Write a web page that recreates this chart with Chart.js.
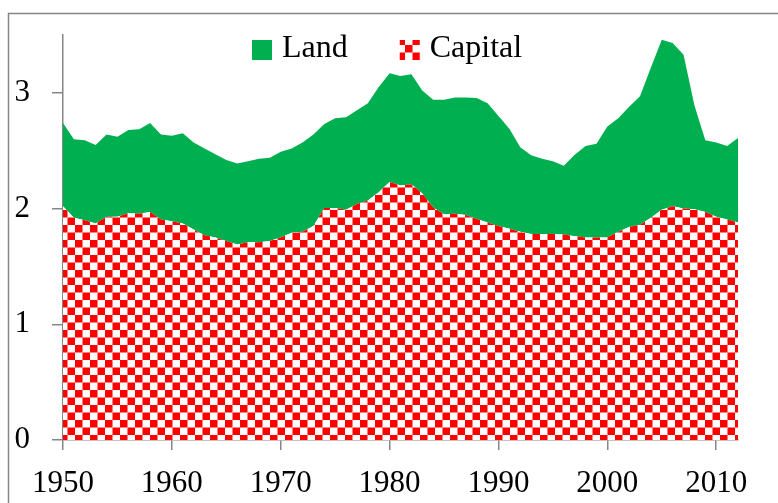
<!DOCTYPE html>
<html>
<head>
<meta charset="utf-8">
<script src="https://cdn.jsdelivr.net/npm/chart.js@4/dist/chart.umd.min.js"></script>
<style>
  html, body { margin: 0; padding: 0; background: #ffffff; }
  #wrap { position: relative; width: 778px; height: 503px; }
</style>
</head>
<body>
<div id="wrap"><canvas id="c" width="778" height="503"></canvas></div>
<script>
// ---- data ----
const years = [1950,1951,1952,1953,1954,1955,1956,1957,1958,1959,
               1960,1961,1962,1963,1964,1965,1966,1967,1968,1969,
               1970,1971,1972,1973,1974,1975,1976,1977,1978,1979,
               1980,1981,1982,1983,1984,1985,1986,1987,1988,1989,
               1990,1991,1992,1993,1994,1995,1996,1997,1998,1999,
               2000,2001,2002,2003,2004,2005,2006,2007,2008,2009,
               2010,2011,2012];
const capital = [2.02,1.92,1.90,1.87,1.93,1.93,1.96,1.955,1.97,1.905,
                 1.89,1.87,1.82,1.77,1.75,1.72,1.69,1.71,1.71,1.72,
                 1.75,1.79,1.80,1.85,2.005,2.005,1.99,2.04,2.07,2.14,
                 2.23,2.20,2.21,2.13,2.01,1.95,1.955,1.945,1.91,1.88,
                 1.85,1.825,1.80,1.78,1.78,1.78,1.775,1.76,1.75,1.75,
                 1.75,1.80,1.84,1.86,1.92,1.99,2.02,2.00,1.995,1.97,
                 1.93,1.905,1.88];
const land = [0.72,0.68,0.69,0.68,0.71,0.69,0.72,0.73,0.77,0.735,
              0.74,0.78,0.75,0.75,0.72,0.70,0.70,0.70,0.72,0.72,
              0.74,0.73,0.77,0.79,0.725,0.775,0.80,0.81,0.84,0.91,
              0.94,0.945,0.95,0.89,0.93,0.99,1.005,1.015,1.045,1.03,
              0.95,0.865,0.73,0.68,0.65,0.63,0.595,0.705,0.79,0.81,
              0.96,0.98,1.04,1.11,1.30,1.47,1.41,1.33,0.895,0.62,
              0.64,0.635,0.73];
const seriesNames = ['Capital', 'Land'];
const xTicks = [1950, 1960, 1970, 1980, 1990, 2000, 2010];
const yTicks = [0, 1, 2, 3];

// ---- styles ----
const FONT = '"Liberation Serif", "Times New Roman", serif';
const AXIS = '#868686';
const GREEN = '#00B050';

function checker() {
  const t = document.createElement('canvas');
  t.width = 15; t.height = 15;
  const g = t.getContext('2d');
  g.fillStyle = '#ffffff'; g.fillRect(0, 0, 15, 15);
  g.fillStyle = '#ff0000';
  g.fillRect(0, 0, 7.5, 7.5);
  g.fillRect(7.5, 7.5, 7.5, 7.5);
  return document.getElementById('c').getContext('2d').createPattern(t, 'repeat');
}
const pattern = checker();

const capitalPts = years.map((yr, i) => ({ x: yr, y: capital[i] }));
const landPts = years.map((yr, i) => ({ x: yr, y: land[i] }));

const framePlugin = {
  id: 'frame',
  beforeDraw(chart) {
    const ctx = chart.ctx;
    ctx.save();
    ctx.strokeStyle = AXIS;
    ctx.lineWidth = 1.5;
    ctx.strokeRect(8.5, 13.5, 2000, 2000);
    ctx.restore();
  }
};

const legendPlugin = {
  id: 'customLegend',
  afterDraw(chart) {
    const ctx = chart.ctx;
    const ca = chart.chartArea;
    const order = [1, 0]; // Land first, then Capital
    ctx.save();
    ctx.font = '32px ' + FONT;
    ctx.textBaseline = 'alphabetic';
    let x = ca.left + 189;
    const boxTop = ca.top + 5;
    order.forEach(idx => {
      const ds = chart.data.datasets[idx];
      ctx.fillStyle = ds.backgroundColor;
      ctx.fillRect(x, boxTop, 20, 20);
      ctx.fillStyle = '#000000';
      ctx.fillText(ds.label, x + 30, ca.top + 22);
      x += 30 + ctx.measureText(ds.label).width + 52;
    });
    ctx.restore();
  }
};

new Chart(document.getElementById('c'), {
  type: 'line',
  data: {
    datasets: [
      {
        label: seriesNames[0],
        data: capitalPts,
        fill: 'origin',
        backgroundColor: pattern,
        borderColor: 'rgba(0,0,0,0)',
        borderWidth: 0,
        pointRadius: 0,
        tension: 0
      },
      {
        label: seriesNames[1],
        data: landPts,
        fill: '-1',
        backgroundColor: GREEN,
        borderColor: 'rgba(0,0,0,0)',
        borderWidth: 0,
        pointRadius: 0,
        tension: 0
      }
    ]
  },
  options: {
    responsive: false,
    animation: false,
    events: [],
    layout: { autoPadding: false, padding: { top: 35, right: 40, left: 0, bottom: 0 } },
    plugins: {
      legend: { display: false },
      tooltip: { enabled: false },
      title: { display: false }
    },
    scales: {
      x: {
        type: 'linear',
        min: years[0],
        max: years[years.length - 1],
        z: 1,
        afterFit(s) { s.height = 63; s.paddingLeft = 0; s.paddingRight = 0; },
        afterBuildTicks(s) { s.ticks = xTicks.map(v => ({ value: v })); },
        ticks: {
          autoSkip: false,
          maxRotation: 0,
          padding: 15,
          color: '#000000',
          font: { family: FONT, size: 31 },
          callback: v => String(v)
        },
        grid: {
          drawOnChartArea: false,
          drawTicks: true,
          tickLength: 10,
          color: AXIS,
          lineWidth: 1.5
        },
        border: { display: true, color: AXIS, width: 1.5 }
      },
      y: {
        type: 'linear',
        stacked: true,
        min: 0,
        max: 3.5,
        z: 1,
        afterFit(s) { s.width = 63; s.paddingTop = 0; s.paddingBottom = 0; },
        afterBuildTicks(s) { s.ticks = yTicks.map(v => ({ value: v })); },
        ticks: {
          padding: 22,
          color: '#000000',
          font: { family: FONT, size: 31 },
          callback: v => String(v)
        },
        grid: {
          drawOnChartArea: false,
          drawTicks: true,
          tickLength: 11,
          color: AXIS,
          lineWidth: 1.5
        },
        border: { display: true, color: AXIS, width: 1.5 }
      }
    }
  },
  plugins: [framePlugin, legendPlugin]
});
</script>
</body>
</html>
